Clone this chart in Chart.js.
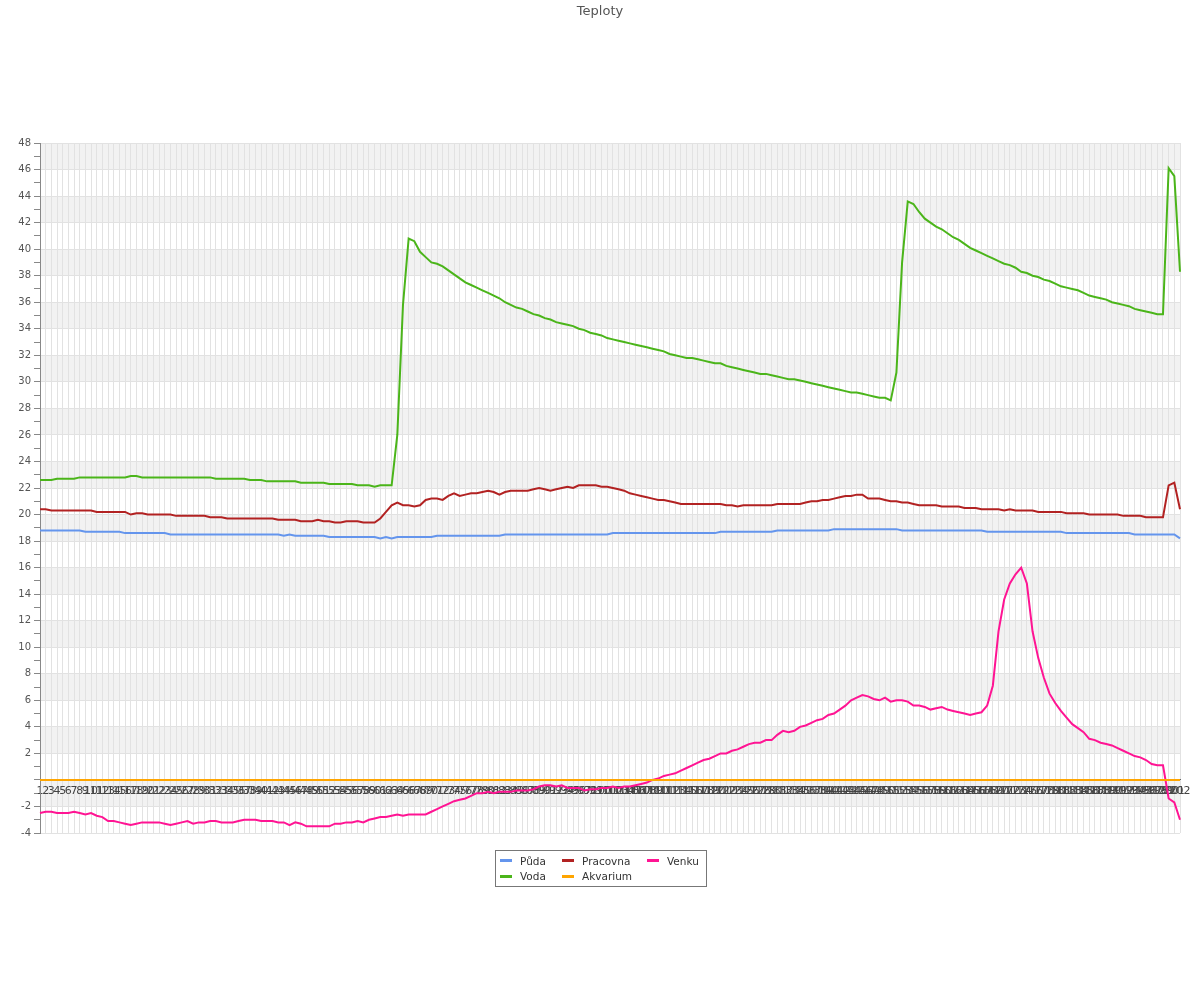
<!DOCTYPE html>
<html>
<head>
<meta charset="utf-8">
<script src="https://cdn.jsdelivr.net/npm/chart.js@4.4.1/dist/chart.umd.min.js"></script>
<style>
html,body{margin:0;padding:0;background:#fff;}
#wrap{position:relative;width:1200px;height:1000px;}
#legend{position:absolute;left:495px;top:850px;width:206px;height:33px;border:1px solid #777;padding:2px 0 0 4px;display:grid;grid-template-columns:62px 85px 59px;grid-template-rows:15.5px 15.5px;grid-auto-flow:column;}
#legend .item{display:flex;align-items:center;font:10.5px "DejaVu Sans",sans-serif;color:#333;white-space:nowrap;}
#legend .mk{display:inline-block;width:12px;height:3px;margin-right:8px;}
</style>
</head>
<body>
<div id="wrap">
<canvas id="c" width="1200" height="1000"></canvas>
<div id="legend"></div>
</div>
<script>
const categories = [
"1","2","3","4","5","6","7","8","9","10","11","12","13","14","15","16","17","18","19","20",
"21","22","23","24","25","26","27","28","29","30","31","32","33","34","35","36","37","38","39","40",
"41","42","43","44","45","46","47","48","49","50","51","52","53","54","55","56","57","58","59","60",
"61","62","63","64","65","66","67","68","69","70","71","72","73","74","75","76","77","78","79","80",
"81","82","83","84","85","86","87","88","89","90","91","92","93","94","95","96","97","98","99","100",
"101","102","103","104","105","106","107","108","109","110","111","112","113","114","115","116","117","118","119","120",
"121","122","123","124","125","126","127","128","129","130","131","132","133","134","135","136","137","138","139","140",
"141","142","143","144","145","146","147","148","149","150","151","152","153","154","155","156","157","158","159","160",
"161","162","163","164","165","166","167","168","169","170","171","172","173","174","175","176","177","178","179","180",
"181","182","183","184","185","186","187","188","189","190","191","192","193","194","195","196","197","198","199","200",
"201","202"];

const puda = [
18.8,18.8,18.8,18.8,18.8,18.8,18.8,18.8,18.7,18.7,
18.7,18.7,18.7,18.7,18.7,18.6,18.6,18.6,18.6,18.6,
18.6,18.6,18.6,18.5,18.5,18.5,18.5,18.5,18.5,18.5,
18.5,18.5,18.5,18.5,18.5,18.5,18.5,18.5,18.5,18.5,
18.5,18.5,18.5,18.4,18.5,18.4,18.4,18.4,18.4,18.4,
18.4,18.3,18.3,18.3,18.3,18.3,18.3,18.3,18.3,18.3,
18.2,18.3,18.2,18.3,18.3,18.3,18.3,18.3,18.3,18.3,
18.4,18.4,18.4,18.4,18.4,18.4,18.4,18.4,18.4,18.4,
18.4,18.4,18.5,18.5,18.5,18.5,18.5,18.5,18.5,18.5,
18.5,18.5,18.5,18.5,18.5,18.5,18.5,18.5,18.5,18.5,
18.5,18.6,18.6,18.6,18.6,18.6,18.6,18.6,18.6,18.6,
18.6,18.6,18.6,18.6,18.6,18.6,18.6,18.6,18.6,18.6,
18.7,18.7,18.7,18.7,18.7,18.7,18.7,18.7,18.7,18.7,
18.8,18.8,18.8,18.8,18.8,18.8,18.8,18.8,18.8,18.8,
18.9,18.9,18.9,18.9,18.9,18.9,18.9,18.9,18.9,18.9,
18.9,18.9,18.8,18.8,18.8,18.8,18.8,18.8,18.8,18.8,
18.8,18.8,18.8,18.8,18.8,18.8,18.8,18.7,18.7,18.7,
18.7,18.7,18.7,18.7,18.7,18.7,18.7,18.7,18.7,18.7,
18.7,18.6,18.6,18.6,18.6,18.6,18.6,18.6,18.6,18.6,
18.6,18.6,18.6,18.5,18.5,18.5,18.5,18.5,18.5,18.5,
18.5,18.2];

const voda = [
22.6,22.6,22.6,22.7,22.7,22.7,22.7,22.8,22.8,22.8,
22.8,22.8,22.8,22.8,22.8,22.8,22.9,22.9,22.8,22.8,
22.8,22.8,22.8,22.8,22.8,22.8,22.8,22.8,22.8,22.8,
22.8,22.7,22.7,22.7,22.7,22.7,22.7,22.6,22.6,22.6,
22.5,22.5,22.5,22.5,22.5,22.5,22.4,22.4,22.4,22.4,
22.4,22.3,22.3,22.3,22.3,22.3,22.2,22.2,22.2,22.1,
22.2,22.2,22.2,26.0,35.8,40.8,40.6,39.8,39.4,39.0,
38.9,38.7,38.4,38.1,37.8,37.5,37.3,37.1,36.9,36.7,
36.5,36.3,36.0,35.8,35.6,35.5,35.3,35.1,35.0,34.8,
34.7,34.5,34.4,34.3,34.2,34.0,33.9,33.7,33.6,33.5,
33.3,33.2,33.1,33.0,32.9,32.8,32.7,32.6,32.5,32.4,
32.3,32.1,32.0,31.9,31.8,31.8,31.7,31.6,31.5,31.4,
31.4,31.2,31.1,31.0,30.9,30.8,30.7,30.6,30.6,30.5,
30.4,30.3,30.2,30.2,30.1,30.0,29.9,29.8,29.7,29.6,
29.5,29.4,29.3,29.2,29.2,29.1,29.0,28.9,28.8,28.8,
28.6,30.7,39.0,43.6,43.4,42.8,42.3,42.0,41.7,41.5,
41.2,40.9,40.7,40.4,40.1,39.9,39.7,39.5,39.3,39.1,
38.9,38.8,38.6,38.3,38.2,38.0,37.9,37.7,37.6,37.4,
37.2,37.1,37.0,36.9,36.7,36.5,36.4,36.3,36.2,36.0,
35.9,35.8,35.7,35.5,35.4,35.3,35.2,35.1,35.1,46.1,
45.5,38.3];

const pracovna = [
20.4,20.4,20.3,20.3,20.3,20.3,20.3,20.3,20.3,20.3,
20.2,20.2,20.2,20.2,20.2,20.2,20.0,20.1,20.1,20.0,
20.0,20.0,20.0,20.0,19.9,19.9,19.9,19.9,19.9,19.9,
19.8,19.8,19.8,19.7,19.7,19.7,19.7,19.7,19.7,19.7,
19.7,19.7,19.6,19.6,19.6,19.6,19.5,19.5,19.5,19.6,
19.5,19.5,19.4,19.4,19.5,19.5,19.5,19.4,19.4,19.4,
19.7,20.2,20.7,20.9,20.7,20.7,20.6,20.7,21.1,21.2,
21.2,21.1,21.4,21.6,21.4,21.5,21.6,21.6,21.7,21.8,
21.7,21.5,21.7,21.8,21.8,21.8,21.8,21.9,22.0,21.9,
21.8,21.9,22.0,22.1,22.0,22.2,22.2,22.2,22.2,22.1,
22.1,22.0,21.9,21.8,21.6,21.5,21.4,21.3,21.2,21.1,
21.1,21.0,20.9,20.8,20.8,20.8,20.8,20.8,20.8,20.8,
20.8,20.7,20.7,20.6,20.7,20.7,20.7,20.7,20.7,20.7,
20.8,20.8,20.8,20.8,20.8,20.9,21.0,21.0,21.1,21.1,
21.2,21.3,21.4,21.4,21.5,21.5,21.2,21.2,21.2,21.1,
21.0,21.0,20.9,20.9,20.8,20.7,20.7,20.7,20.7,20.6,
20.6,20.6,20.6,20.5,20.5,20.5,20.4,20.4,20.4,20.4,
20.3,20.4,20.3,20.3,20.3,20.3,20.2,20.2,20.2,20.2,
20.2,20.1,20.1,20.1,20.1,20.0,20.0,20.0,20.0,20.0,
20.0,19.9,19.9,19.9,19.9,19.8,19.8,19.8,19.8,22.2,
22.4,20.4];

const akvarium = [
0,0,0,0,0,0,0,0,0,0, 0,0,0,0,0,0,0,0,0,0,
0,0,0,0,0,0,0,0,0,0, 0,0,0,0,0,0,0,0,0,0,
0,0,0,0,0,0,0,0,0,0, 0,0,0,0,0,0,0,0,0,0,
0,0,0,0,0,0,0,0,0,0, 0,0,0,0,0,0,0,0,0,0,
0,0,0,0,0,0,0,0,0,0, 0,0,0,0,0,0,0,0,0,0,
0,0,0,0,0,0,0,0,0,0, 0,0,0,0,0,0,0,0,0,0,
0,0,0,0,0,0,0,0,0,0, 0,0,0,0,0,0,0,0,0,0,
0,0,0,0,0,0,0,0,0,0, 0,0,0,0,0,0,0,0,0,0,
0,0,0,0,0,0,0,0,0,0, 0,0,0,0,0,0,0,0,0,0,
0,0,0,0,0,0,0,0,0,0, 0,0,0,0,0,0,0,0,0,0,
0,0];

const venku = [
-2.5,-2.4,-2.4,-2.5,-2.5,-2.5,-2.4,-2.5,-2.6,-2.5,
-2.7,-2.8,-3.1,-3.1,-3.2,-3.3,-3.4,-3.3,-3.2,-3.2,
-3.2,-3.2,-3.3,-3.4,-3.3,-3.2,-3.1,-3.3,-3.2,-3.2,
-3.1,-3.1,-3.2,-3.2,-3.2,-3.1,-3.0,-3.0,-3.0,-3.1,
-3.1,-3.1,-3.2,-3.2,-3.4,-3.2,-3.3,-3.5,-3.5,-3.5,
-3.5,-3.5,-3.3,-3.3,-3.2,-3.2,-3.1,-3.2,-3.0,-2.9,
-2.8,-2.8,-2.7,-2.6,-2.7,-2.6,-2.6,-2.6,-2.6,-2.4,
-2.2,-2.0,-1.8,-1.6,-1.5,-1.4,-1.2,-1.0,-1.0,-0.9,
-1.0,-0.9,-0.9,-0.9,-0.8,-0.8,-0.8,-0.7,-0.5,-0.4,
-0.4,-0.5,-0.4,-0.6,-0.6,-0.6,-0.8,-0.7,-0.7,-0.6,
-0.6,-0.5,-0.6,-0.5,-0.5,-0.4,-0.3,-0.2,0.0,0.1,
0.3,0.4,0.5,0.7,0.9,1.1,1.3,1.5,1.6,1.8,
2.0,2.0,2.2,2.3,2.5,2.7,2.8,2.8,3.0,3.0,
3.4,3.7,3.6,3.7,4.0,4.1,4.3,4.5,4.6,4.9,
5.0,5.3,5.6,6.0,6.2,6.4,6.3,6.1,6.0,6.2,
5.9,6.0,6.0,5.9,5.6,5.6,5.5,5.3,5.4,5.5,
5.3,5.2,5.1,5.0,4.9,5.0,5.1,5.6,7.1,11.2,
13.6,14.8,15.5,16.0,14.8,11.2,9.2,7.7,6.5,5.8,
5.2,4.7,4.2,3.9,3.6,3.1,3.0,2.8,2.7,2.6,
2.4,2.2,2.0,1.8,1.7,1.5,1.2,1.1,1.1,-1.4,
-1.7,-3.0];

const seriesNames = ["Půda", "Voda", "Pracovna", "Akvarium", "Venku"];
const seriesColors = ["#6495ed", "#4bb51a", "#b22222", "#ffa500", "#ff1493"];
const seriesValues = [puda, voda, pracovna, akvarium, venku];

Chart.defaults.font.family = '"DejaVu Sans", sans-serif';

const bandsPlugin = {
  id: 'bands',
  beforeDraw(chart) {
    const {ctx, chartArea: a, scales: {y}} = chart;
    ctx.save();
    ctx.fillStyle = '#f2f2f2';
    for (let v = y.min; v < y.max; v += 2) {
      if (Math.abs((v / 2) % 2) === 1) {
        const top = y.getPixelForValue(v + 2), bot = y.getPixelForValue(v);
        ctx.fillRect(a.left, top, a.right - a.left, bot - top);
      }
    }
    ctx.restore();
  }
};

const chart = new Chart(document.getElementById('c'), {
  type: 'line',
  data: {
    labels: categories,
    datasets: seriesNames.map((n, i) => ({
      label: n,
      data: seriesValues[i],
      borderColor: seriesColors[i],
      backgroundColor: seriesColors[i],
      borderWidth: 2,
      pointRadius: 0,
      tension: 0,
      fill: false
    }))
  },
  options: {
    responsive: false,
    animation: false,
    layout: {padding: {top: 0, bottom: 167, left: 0, right: 0}},
    plugins: {
      legend: {display: false},
      tooltip: {enabled: false},
      title: {
        display: true, text: 'Teploty', color: '#555',
        font: {size: 13, weight: 'normal'},
        padding: {top: 4, bottom: 123.4}
      }
    },
    scales: {
      x: {
        position: {y: 0},
        offset: false,
        border: {color: '#666', width: 1},
        grid: {color: '#e2e2e2', drawTicks: false},
        ticks: {autoSkip: false, maxRotation: 0, minRotation: 0, padding: 5, color: '#444', font: {size: 11}}
      },
      y: {
        min: -4, max: 48,
        afterFit: s => { s.width = 40; },
        border: {color: '#888', width: 1},
        grid: {
          color: c => (c.tick && c.tick.value % 2 === 0) ? '#e2e2e2' : 'rgba(0,0,0,0)',
          tickColor: '#888', tickLength: 6
        },
        ticks: {
          stepSize: 1, autoSkip: false, maxTicksLimit: 100, padding: 3, color: '#555',
          font: {size: 10},
          callback: v => (v % 2 === 0 && v !== 0) ? String(v) : ''
        }
      },
      yRightSpacer: {
        position: 'right',
        display: true,
        min: 0, max: 1,
        afterFit: s => { s.width = 20; },
        border: {display: false},
        grid: {display: false, drawTicks: false},
        ticks: {display: false}
      }
    }
  },
  plugins: [bandsPlugin]
});

const leg = document.getElementById('legend');
chart.data.datasets.forEach(ds => {
  const it = document.createElement('div');
  it.className = 'item';
  const mk = document.createElement('span');
  mk.className = 'mk';
  mk.style.background = ds.borderColor;
  it.appendChild(mk);
  it.appendChild(document.createTextNode(ds.label));
  leg.appendChild(it);
});
</script>
</body>
</html>
